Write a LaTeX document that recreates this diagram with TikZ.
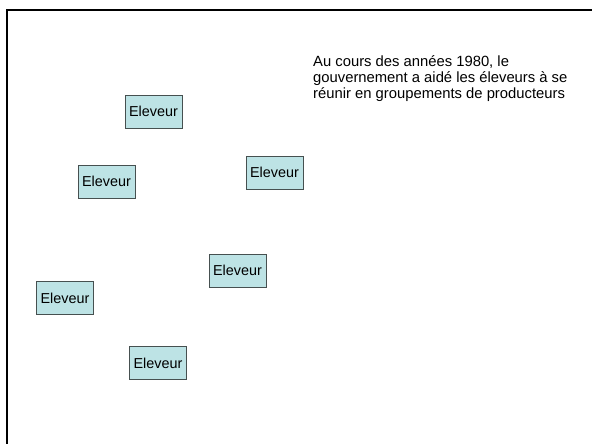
\documentclass[tikz,border=0pt]{standalone}
\usepackage{fontspec}
\setmainfont{Liberation Sans}
\definecolor{boxfill}{RGB}{189,227,229}
\definecolor{boxline}{RGB}{70,80,80}
\begin{document}
\begin{tikzpicture}[x=1pt,y=-1pt,
  eleveur/.style={draw=boxline,line width=0.8pt,fill=boxfill,rectangle,minimum width=57pt,minimum height=33pt,inner sep=0pt,font=\fontsize{14.4}{16}\selectfont},
  note/.style={anchor=north west,inner sep=0pt,align=left,font=\fontsize{14.8}{16}\selectfont}]
\useasboundingbox (0,0) rectangle (592,444);
\begin{scope}
\clip (0,0) rectangle (592,444);
\draw[line width=2.8pt] (7,460) -- (7,10) -- (610,10);
\end{scope}
\node[eleveur] (e1) at (153.5,111.5) {Eleveur};
\node[eleveur] (e2) at (106.5,181.5) {Eleveur};
\node[eleveur] (e3) at (274.5,172.5) {Eleveur};
\node[eleveur] (e4) at (237.5,270.5) {Eleveur};
\node[eleveur] (e5) at (65,298) {Eleveur};
\node[eleveur] (e6) at (158,363) {Eleveur};
\node[note] (txt) at (313,55.5) {Au cours des années 1980, le\\gouvernement a aidé les éleveurs à se\\réunir en groupements de producteurs};
\end{tikzpicture}
\end{document}
